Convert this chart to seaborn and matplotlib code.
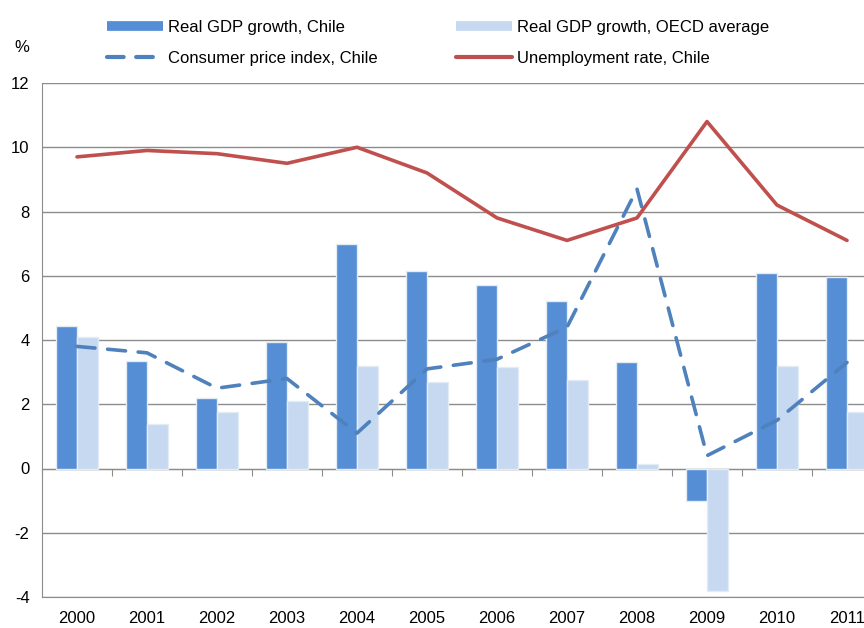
import pandas as pd
import matplotlib.pyplot as plt
import seaborn as sns
from matplotlib.lines import Line2D

YEARS = ["2000", "2001", "2002", "2003", "2004", "2005",
         "2006", "2007", "2008", "2009", "2010", "2011"]
GDP_CHILE = [4.45, 3.35, 2.2, 3.95, 7.0, 6.15, 5.7, 5.2, 3.3, -1.0, 6.1, 5.95]
GDP_OECD = [4.1, 1.4, 1.75, 2.1, 3.2, 2.7, 3.15, 2.75, 0.15, -3.8, 3.2, 1.75]
CPI_CHILE = [3.8, 3.6, 2.5, 2.8, 1.1, 3.1, 3.4, 4.4, 8.7, 0.4, 1.5, 3.3]
UNEMP_CHILE = [9.7, 9.9, 9.8, 9.5, 10.0, 9.2, 7.8, 7.1, 7.8, 10.8, 8.2, 7.1]

LABELS = ["Real GDP growth, Chile", "Real GDP growth, OECD average",
          "Consumer price index, Chile", "Unemployment rate, Chile"]
COLORS = ["#558ed5", "#c6d9f1", "#4f81bd", "#c0504d"]

sns.set_style("white")
plt.rcParams['font.family'] = ['Liberation Sans Narrow', 'Liberation Sans', 'DejaVu Sans']
plt.rcParams['axes.unicode_minus'] = False
plt.rcParams['text.color'] = 'black'

bars = pd.DataFrame({
    "year": YEARS * 2,
    "value": GDP_CHILE + GDP_OECD,
    "series": [LABELS[0]] * len(YEARS) + [LABELS[1]] * len(YEARS),
})
lines = pd.DataFrame({"year": YEARS, "cpi": CPI_CHILE, "unemp": UNEMP_CHILE})

fig = plt.figure(figsize=(8.64, 6.28), dpi=100)
ax = fig.add_axes([42 / 864, 1 - 597 / 628, 840 / 864, (597 - 83) / 628])

sns.barplot(data=bars, x="year", y="value", hue="series", order=YEARS,
            palette=dict(zip(LABELS[:2], COLORS[:2])), width=0.6,
            saturation=1, edgecolor="#e3ebf5", linewidth=1, legend=False, ax=ax)
sns.lineplot(data=lines, x="year", y="cpi", color=COLORS[2], linewidth=2.6,
             linestyle=(0, (5, 3.5)), dash_capstyle="round", ax=ax)
sns.lineplot(data=lines, x="year", y="unemp", color=COLORS[3], linewidth=2.6,
             ax=ax)

ax.set_xlim(-0.5, len(YEARS) - 0.5)
ax.set_ylim(-4, 12)
ax.set_yticks(range(-4, 13, 2))
ax.grid(axis="y", color="#8c8c8c", linewidth=1)
ax.set_axisbelow(True)
for s in ["top", "right"]:
    ax.spines[s].set_visible(False)
ax.spines["left"].set_color("#8c8c8c")
ax.spines["bottom"].set_color("#8c8c8c")
ax.tick_params(axis="y", length=5, color="#8c8c8c", labelcolor="black",
               labelsize=12, pad=4)
ax.tick_params(axis="x", length=0, labelcolor="black", labelsize=12, pad=10)
ax.set_xlabel("")
ax.set_ylabel("")

# category axis crosses at zero
sec = ax.secondary_xaxis(4 / 16)
sec.set_xticks([i - 0.5 for i in range(len(YEARS) + 1)])
sec.set_xticklabels([])
sec.tick_params(length=5, color="#8c8c8c", direction="out")
sec.spines["bottom"].set_color("#8c8c8c")

handles = [
    Line2D([], [], color=COLORS[0], linewidth=7, solid_capstyle="butt"),
    Line2D([], [], color=COLORS[2], linewidth=3, linestyle=(0, (4, 3)),
           dash_capstyle="round"),
    Line2D([], [], color=COLORS[1], linewidth=7, solid_capstyle="butt"),
    Line2D([], [], color=COLORS[3], linewidth=3),
]
labels = [LABELS[0], LABELS[2], LABELS[1], LABELS[3]]
fig.legend(handles, labels, ncol=2, loc="upper left",
           bbox_to_anchor=(92 / 864, 1 - 5 / 628), frameon=False,
           fontsize=12, handlelength=3.35, columnspacing=4.7,
           labelspacing=0.95, handletextpad=0.3)
fig.text(22 / 864, 1 - 47 / 628, "%", fontsize=12, ha="center", va="center")

fig.savefig("out.png", dpi=100)
